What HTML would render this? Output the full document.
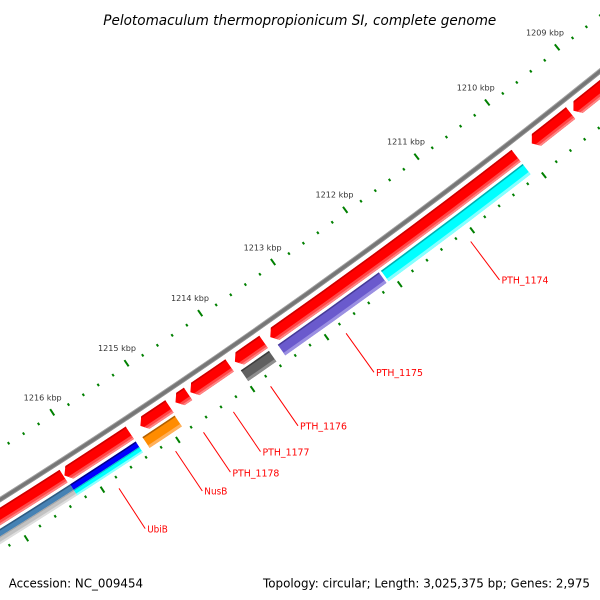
<!DOCTYPE html>
<html><head><meta charset="utf-8"><style>
html,body{margin:0;padding:0;background:#fff;width:600px;height:600px;overflow:hidden;}
svg{display:block;overflow:hidden;}
</style></head><body>
<svg id="s" xmlns="http://www.w3.org/2000/svg" width="600" height="600" viewBox="0 0 600 600">
<rect width="600" height="600" fill="#ffffff"/>
<defs id="d"></defs>
<g id="g"></g>
<g stroke="#ff0000" stroke-width="1" fill="none">
<line x1="470.7" y1="241.5" x2="499.5" y2="279.9"/>
<line x1="346.1" y1="333.3" x2="374.0" y2="372.3"/>
<line x1="270.6" y1="386.3" x2="298.0" y2="425.8"/>
<line x1="233.4" y1="411.9" x2="260.5" y2="451.6"/>
<line x1="203.5" y1="432.3" x2="230.4" y2="472.1"/>
<line x1="175.6" y1="451.1" x2="202.3" y2="491.0"/>
<line x1="119.0" y1="488.4" x2="145.2" y2="528.6"/>
</g>
<g font-family="'DejaVu Sans','Liberation Sans',sans-serif" font-size="9.5" fill="#ff0000">
<text x="501.5" y="283.6" textLength="47" lengthAdjust="spacingAndGlyphs">PTH_1174</text>
<text x="376.0" y="376.0" textLength="47" lengthAdjust="spacingAndGlyphs">PTH_1175</text>
<text x="300.0" y="429.5" textLength="47" lengthAdjust="spacingAndGlyphs">PTH_1176</text>
<text x="262.5" y="455.5" textLength="47" lengthAdjust="spacingAndGlyphs">PTH_1177</text>
<text x="232.4" y="476.5" textLength="47" lengthAdjust="spacingAndGlyphs">PTH_1178</text>
<text x="204.3" y="494.7" textLength="23" lengthAdjust="spacingAndGlyphs">NusB</text>
<text x="147.2" y="532.6" textLength="20.6" lengthAdjust="spacingAndGlyphs">UbiB</text>
</g>
<g font-family="'DejaVu Sans','Liberation Sans',sans-serif" font-size="8" fill="#333333" text-anchor="middle">
<text x="545" y="35.5" textLength="38" lengthAdjust="spacingAndGlyphs">1209 kbp</text>
<text x="475.8" y="90.6" textLength="38" lengthAdjust="spacingAndGlyphs">1210 kbp</text>
<text x="406" y="144.7" textLength="38" lengthAdjust="spacingAndGlyphs">1211 kbp</text>
<text x="334.5" y="197.6" textLength="38" lengthAdjust="spacingAndGlyphs">1212 kbp</text>
<text x="262.6" y="250.3" textLength="38" lengthAdjust="spacingAndGlyphs">1213 kbp</text>
<text x="190" y="301.1" textLength="38" lengthAdjust="spacingAndGlyphs">1214 kbp</text>
<text x="117" y="351.1" textLength="38" lengthAdjust="spacingAndGlyphs">1215 kbp</text>
<text x="42.7" y="400.3" textLength="38" lengthAdjust="spacingAndGlyphs">1216 kbp</text>
</g>
<text x="103.3" y="25" font-family="'DejaVu Sans','Liberation Sans',sans-serif" font-style="italic" font-size="14" fill="#000" textLength="393" lengthAdjust="spacingAndGlyphs">Pelotomaculum thermopropionicum SI, complete genome</text>
<text x="8.7" y="587.3" font-family="'DejaVu Sans','Liberation Sans',sans-serif" font-size="12" fill="#000" textLength="134.3" lengthAdjust="spacingAndGlyphs">Accession: NC_009454</text>
<text x="263" y="587.3" font-family="'DejaVu Sans','Liberation Sans',sans-serif" font-size="12" fill="#000" textLength="327" lengthAdjust="spacingAndGlyphs">Topology: circular; Length: 3,025,375 bp; Genes: 2,975</text>
</svg>
<script>
(function(){
var NS='http://www.w3.org/2000/svg';
var CX=-3358, CY=-4837, A0=52.10, K=0.815;
var g=document.getElementById('g'), defs=document.getElementById('d');
function ang(p){return (A0+(p-1210)*K)*Math.PI/180;}
function P(r,a){return (CX+r*Math.cos(a)).toFixed(2)+','+(CY+r*Math.sin(a)).toFixed(2);}
function sector(r1,r2,p1,p2){var a1=ang(p1),a2=ang(p2);
 return 'M'+P(r1,a1)+' A'+r1+','+r1+' 0 0 1 '+P(r1,a2)+' L'+P(r2,a2)+' A'+r2+','+r2+' 0 0 0 '+P(r2,a1)+' Z';}
function arrow(r1,r2,p1,p2){var L=0.067;var a1=ang(p1),ab=ang(p2-L),a2=ang(p2),rm=(r1+r2)/2;
 return 'M'+P(r1,a1)+' A'+r1+','+r1+' 0 0 1 '+P(r1,ab)+' L'+P(rm,a2)+' L'+P(r2,ab)+' A'+r2+','+r2+' 0 0 0 '+P(r2,a1)+' Z';}
function path(d,fill,parent){var e=document.createElementNS(NS,'path');e.setAttribute('d',d);e.setAttribute('fill',fill);(parent||g).appendChild(e);return e;}
var cid=0;
function feat(p1,p2,r1,r2,main,over,isArrow){
 var parent=g;
 if(isArrow){
   var d=arrow(r1,r2,p1,p2);cid++;
   var cp=document.createElementNS(NS,'clipPath');cp.setAttribute('id','c'+cid);
   var pe=document.createElementNS(NS,'path');pe.setAttribute('d',d);cp.appendChild(pe);defs.appendChild(cp);
   var grp=document.createElementNS(NS,'g');grp.setAttribute('clip-path','url(#c'+cid+')');g.appendChild(grp);
   parent=grp;
   path(sector(r1-1,r2+1,p1,p2),main,parent);
 } else {
   path(sector(r1,r2,p1,p2),main,parent);
 }
 (over||[]).forEach(function(b){path(sector(b[0],b[1],p1,p2),b[2],parent);});
}
/* backbone */
feat(1208.6,1217.2,6302.8,6307.6,'#767676',[[6302.8,6303.6,'#a8a8a8'],[6306.8,6307.6,'#949494']],false);
/* red CDS slot */
var RO=[[6312,6313.6,'#cc0000'],[6322.5,6325,'#ff4848'],[6325,6327,'#ff8484']];
[[1208.6,1209.30],[1209.34,1209.89],[1210.11,1213.51],[1213.60,1213.99],[1214.06,1214.59],
 [1214.62,1214.79],[1214.87,1215.26],[1215.40,1216.27],[1216.28,1217.5]].forEach(function(f){
  feat(f[0],f[1],6312,6327,'#ff0000',RO,true);
});
/* second slot */
feat(1210.11,1212.08,6330,6343,'#00ffff',[[6330,6331.5,'#00aeae'],[6340,6343,'#86ffff']],false);
feat(1212.11,1213.49,6330,6343,'#6a5acd',[[6330,6331.5,'#463a96'],[6340,6343,'#9b90e2']],false);
feat(1213.61,1213.99,6330,6343,'#606060',[[6330,6331.5,'#3c3c3c'],[6340,6343,'#8e8e8e']],false);
feat(1214.88,1215.31,6330,6343,'#ff8c00',[[6330,6331.5,'#b05f00'],[6340,6343,'#ffb05a']],false);
feat(1215.40,1216.27,6330,6336.5,'#0000ff',[[6330,6331.5,'#00008a']],false);
feat(1215.40,1216.27,6336.5,6343,'#00ffff',[[6336.5,6337.5,'#00c4c4'],[6341,6343,'#90ffff']],false);
feat(1216.27,1217.45,6330,6336.5,'#4682b4',[[6330,6331.5,'#2e5a80']],false);
feat(1216.27,1217.45,6336.5,6343,'#c2c2c2',[[6336.5,6337.5,'#a4a4a4'],[6341,6343,'#dedede']],false);
/* ticks */
function tick(p,ra,rb){var a=ang(p);var l=document.createElementNS(NS,'line');
 l.setAttribute('x1',(CX+ra*Math.cos(a)).toFixed(2));l.setAttribute('y1',(CY+ra*Math.sin(a)).toFixed(2));
 l.setAttribute('x2',(CX+rb*Math.cos(a)).toFixed(2));l.setAttribute('y2',(CY+rb*Math.sin(a)).toFixed(2));
 l.setAttribute('stroke','#008000');l.setAttribute('stroke-width','2');g.appendChild(l);}
for(var i=6041;i<=6087;i++){var p=i/5;
 if(i%5==0){tick(p,6256,6263.5);tick(p,6348.5,6355.5);}
 else{tick(p,6260.8,6263.5);tick(p,6347.5,6350.2);}
}
})();
</script>
</body></html>
